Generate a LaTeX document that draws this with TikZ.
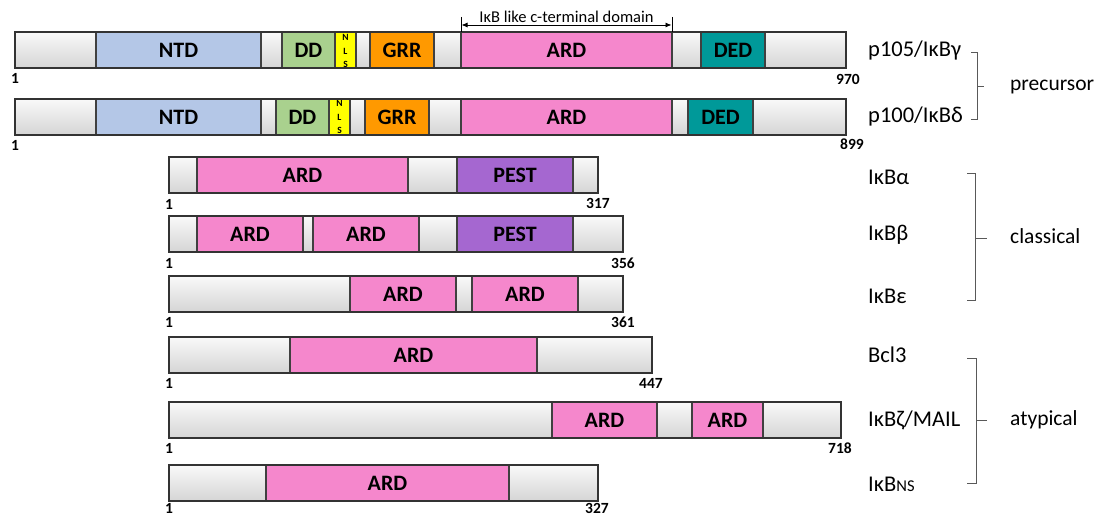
\documentclass[tikz,border=0pt]{standalone}
\usepackage{fontspec}
\setmainfont{Carlito}
\usetikzlibrary{arrows.meta}
\definecolor{cNTD}{RGB}{180,199,231}
\definecolor{cDD}{RGB}{169,209,142}
\definecolor{cNLS}{RGB}{255,255,0}
\definecolor{cGRR}{RGB}{255,153,0}
\definecolor{cARD}{RGB}{245,135,204}
\definecolor{cDED}{RGB}{0,153,153}
\definecolor{cPEST}{RGB}{165,103,208}
\definecolor{cLine}{RGB}{64,64,64}
\definecolor{cBr}{RGB}{89,89,89}
\tikzset{
  segbox/.style={draw=cLine, line width=1.1pt},
  bar/.style={top color=gray!5, bottom color=gray!33, draw=none},
  barframe/.style={draw=cLine!80!black, line width=1.6pt},
  segtext/.style={font=\fontsize{22}{24}\selectfont\bfseries, inner sep=0pt},
  nlstext/.style={font=\fontsize{9.5}{13.5}\selectfont\bfseries, align=center, inner sep=0pt},
  numtext/.style={font=\fontsize{15.5}{17}\selectfont\bfseries, inner sep=0pt},
  rowlabel/.style={font=\fontsize{22.5}{25}\selectfont, anchor=west, inner sep=0pt},
  grouplabel/.style={font=\fontsize{21.5}{24}\selectfont, anchor=west, inner sep=0pt},
  bracket/.style={draw=cBr, line width=1pt},
}
% \seg{name}{x1}{x2}{ytop}{colour}{text}
\newcommand\seg[6]{%
  \path[segbox, fill=#5] (#2,#4) rectangle (#3,#4+36);
  \node[segtext] (#1) at ({(#2+#3)/2},#4+18) {#6};}
\newcommand\barbase[3]{\path[bar] (#1,#3) rectangle (#2,#3+36);}
\newcommand\barframe[3]{\path[barframe] (#1,#3) rectangle (#2,#3+36);}
\begin{document}
\begin{tikzpicture}[x=1pt,y=-1pt]
\useasboundingbox (0,0) rectangle (1101,516);

% ---------- Row 1: p105 ----------
\barbase{15}{846}{32}
\seg{ntdA}{96}{261}{32}{cNTD}{NTD}
\seg{ddA}{282}{335}{32}{cDD}{DD}
\path[segbox, fill=cNLS] (335,32) rectangle (356,68);
\node[nlstext] (nlsA) at (345.5,51) {N\\L\\S};
\seg{grrA}{370}{434}{32}{cGRR}{GRR}
\seg{ardA}{461}{672}{32}{cARD}{ARD}
\seg{dedA}{701}{765}{32}{cDED}{DED}
\barframe{15}{846}{32}
\node[numtext] (sA) at (15,78) {1};
\node[numtext] (eA) at (848,79) {970};
\node[rowlabel] (labA) at (868,51) {p105/IκBγ};

% c-terminal domain marker
\coordinate (tl) at (461,17);
\coordinate (tr) at (672,17);
\draw[black, line width=0.8pt] (tl) -- (461,32);
\draw[black, line width=0.8pt] (tr) -- (672,32);
\draw[black, line width=0.8pt, {Latex[length=6pt,width=5pt]}-{Latex[length=6pt,width=5pt]}] (461.5,25) -- (671.5,25);
\node[font=\fontsize{16.5}{18}\selectfont, anchor=south, inner sep=0pt] (ctd) at (566.5,22.5) {IκB like c-terminal domain};

% ---------- Row 2: p100 ----------
\barbase{15}{846}{99}
\seg{ntdB}{96}{261}{99}{cNTD}{NTD}
\seg{ddB}{276}{329}{99}{cDD}{DD}
\path[segbox, fill=cNLS] (329,99) rectangle (350,135);
\node[nlstext] (nlsB) at (339.5,117) {N\\L\\S};
\seg{grrB}{365}{429}{99}{cGRR}{GRR}
\seg{ardB}{461}{672}{99}{cARD}{ARD}
\seg{dedB}{688}{753}{99}{cDED}{DED}
\barframe{15}{846}{99}
\node[numtext] (sB) at (15,145) {1};
\node[numtext] (eB) at (852,144) {899};
\node[rowlabel] (labB) at (868,117) {p100/IκBδ};

% ---------- Row 3: IkBa ----------
\barbase{169}{598}{157}
\seg{ardC}{197}{408}{157}{cARD}{ARD}
\seg{pestC}{457}{573}{157}{cPEST}{PEST}
\barframe{169}{598}{157}
\node[numtext] (sC) at (169,204) {1};
\node[numtext] (eC) at (598,203) {317};
\node[rowlabel] (labC) at (868,177) {IκBα};

% ---------- Row 4: IkBb ----------
\barbase{169}{623}{216}
\seg{ardDa}{197}{303}{216}{cARD}{ARD}
\seg{ardDb}{313}{419}{216}{cARD}{ARD}
\seg{pestD}{457}{573}{216}{cPEST}{PEST}
\barframe{169}{623}{216}
\node[numtext] (sD) at (169,263) {1};
\node[numtext] (eD) at (623,263) {356};
\node[rowlabel] (labD) at (868,235) {IκBβ};

% ---------- Row 5: IkBe ----------
\barbase{169}{623}{276}
\seg{ardEa}{350}{456}{276}{cARD}{ARD}
\seg{ardEb}{472}{578}{276}{cARD}{ARD}
\barframe{169}{623}{276}
\node[numtext] (sE) at (169,322) {1};
\node[numtext] (eE) at (623,322) {361};
\node[rowlabel] (labE) at (868,296) {IκBε};

% ---------- Row 6: Bcl3 ----------
\barbase{169}{652}{337}
\seg{ardF}{290}{537}{337}{cARD}{ARD}
\barframe{169}{652}{337}
\node[numtext] (sF) at (169,383) {1};
\node[numtext] (eF) at (651,383) {447};
\node[rowlabel] (labF) at (868,355) {Bcl3};

% ---------- Row 7: IkBz/MAIL ----------
\barbase{169}{841}{402}
\seg{ardGa}{552}{657}{402}{cARD}{ARD}
\seg{ardGb}{692}{763}{402}{cARD}{ARD}
\barframe{169}{841}{402}
\node[numtext] (sG) at (169,448) {1};
\node[numtext] (eG) at (840,448) {718};
\node[rowlabel] (labG) at (868,420) {IκBζ/MAIL};

% ---------- Row 8: IkBNS ----------
\barbase{169}{598}{465}
\seg{ardH}{266}{509}{465}{cARD}{ARD}
\barframe{169}{598}{465}
\node[numtext] (sH) at (169,508) {1};
\node[numtext] (eH) at (597,508) {327};
\node[rowlabel] (labH) at (868,484) {IκB{\fontsize{16.5}{18}\selectfont NS}};

% ---------- Brackets ----------
\coordinate (pT) at (971,53);
\coordinate (pB) at (971,120);
\coordinate (pM) at (984,87);
\draw[bracket] (pT) -- (977,53) -- (977,120) -- (pB);
\draw[bracket] (977,87) -- (pM);
\node[grouplabel] (gPre) at (1010,87) {precursor};

\coordinate (cT) at (967,174);
\coordinate (cB) at (967,300);
\coordinate (cM) at (987,238);
\draw[bracket] (cT) -- (975,174) -- (975,300) -- (cB);
\draw[bracket] (975,238) -- (cM);
\node[grouplabel] (gCla) at (1010,236) {classical};

\coordinate (aT) at (967,358);
\coordinate (aB) at (967,483);
\coordinate (aM) at (987,420);
\draw[bracket] (aT) -- (976,358) -- (976,483) -- (aB);
\draw[bracket] (976,420) -- (aM);
\node[grouplabel] (gAty) at (1010,420) {atypical};
\end{tikzpicture}
\end{document}
